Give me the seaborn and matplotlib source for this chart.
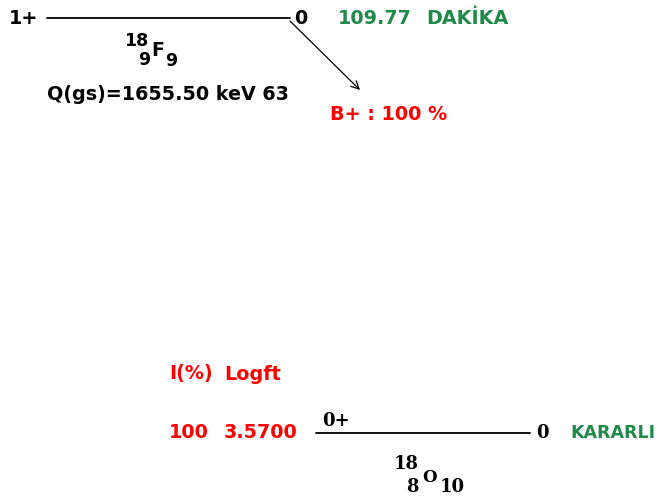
import matplotlib
matplotlib.use("Agg")
import matplotlib.pyplot as plt
import seaborn as sns
import pandas as pd

# ---- data ----
mass_number = 18
parent_symbol = "F"
parent_Z = 9
parent_N = 9
parent_spin = "1+"
parent_level_energy = "0"
half_life_value = "109.77"
half_life_unit = "DAKİKA"
q_value = "1655.50"
q_unc = "63"
decay_mode = "B+"
branch_percent = "100"

daughter_symbol = "O"
daughter_Z = 8
daughter_N = 10
daughter_spin = "0+"
daughter_level_energy = "0"
daughter_status = "KARARLI"
feed_intensity = ["100"]
feed_logft = ["3.5700"]
col_headers = ["I(%)", "Logft"]

# ---- layout (pixel frame) ----
sns.set_theme(style="white")
plt.rcParams['font.family'] = ['DejaVu Sans']
fig = plt.figure(figsize=(6.62, 4.97), dpi=100)
ax = fig.add_axes([0, 0, 1, 1])

GREEN = "#1f8a4a"
RED = "#ff0000"
FS = 13.8

levels = pd.DataFrame({
    "x": [47, 290, 316, 530],
    "y": [18, 18, 433, 433],
    "level": ["parent", "parent", "daughter", "daughter"],
})
sns.lineplot(data=levels, x="x", y="y", units="level", estimator=None,
             color="black", linewidth=1.3, ax=ax, legend=False)
ax.set_xlim(0, 662)
ax.set_ylim(497, 0)
ax.axis("off")

def t(x, y, s, color="black", ha="left", size=FS, family="DejaVu Sans"):
    ax.text(x, y, s, color=color, ha=ha, va="center", fontsize=size,
            fontweight="bold", family=family)

# parent level
t(9, 18, parent_spin)
t(294, 18, parent_level_energy)
t(338, 18, half_life_value, color=GREEN)
t(426, 18, half_life_unit, color=GREEN)

# parent nuclide label
t(148, 41, str(mass_number), ha="right", size=12.5)
t(150, 60, str(parent_Z), ha="right", size=12.5)
t(151, 51, parent_symbol, size=13.5)
t(165, 61, str(parent_N), size=12.5)

t(47, 95, f"Q(gs)={q_value} keV {q_unc}")

# decay arrow
ax.annotate("", xy=(360, 90), xytext=(290, 21),
            arrowprops=dict(arrowstyle="->", color="black", lw=0.9,
                            mutation_scale=14, shrinkA=0, shrinkB=0))
t(330, 114, f"{decay_mode} : {branch_percent} %", color=RED)

# table headers
t(169, 374, col_headers[0], color=RED)
t(224, 374, col_headers[1], color=RED)
t(169, 432, feed_intensity[0], color=RED)
t(224, 432, feed_logft[0], color=RED)

# daughter level
t(322, 421, daughter_spin, family="DejaVu Serif", size=13)
t(536, 433, daughter_level_energy, family="DejaVu Serif", size=13)
t(570, 433, daughter_status, color=GREEN, size=12.6)

# daughter nuclide label
t(419, 464, str(mass_number), ha="right", size=13, family="DejaVu Serif")
t(419, 487, str(daughter_Z), ha="right", size=13, family="DejaVu Serif")
t(422, 477, daughter_symbol, size=12, family="DejaVu Serif")
t(440, 487, str(daughter_N), size=13, family="DejaVu Serif")

fig.savefig("out.png", dpi=100)
